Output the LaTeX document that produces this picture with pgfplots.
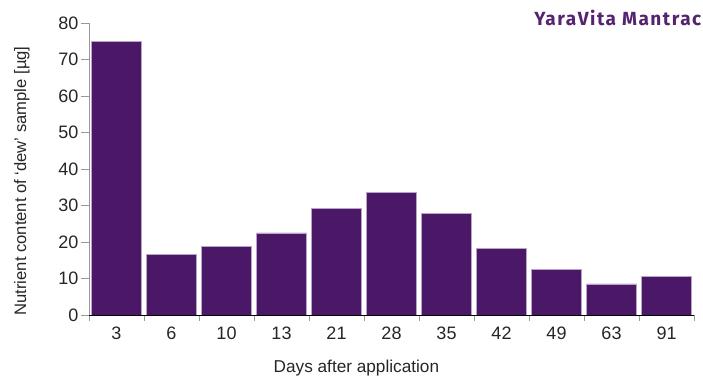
\documentclass[border=0pt]{standalone}
\usepackage{pgfplots}
\pgfplotsset{compat=1.18}
\usepackage{fontspec}
\setmainfont{Liberation Sans}
\newfontfamily\brandfont{Fira Sans}[LetterSpace=8]
\definecolor{barpurple}{HTML}{4B1767}
\definecolor{baredge}{HTML}{B9A3C9}
\definecolor{brand}{HTML}{55246F}

\begin{document}
\begin{tikzpicture}
\path[use as bounding box] (0,0) rectangle (703pt,377pt);
\begin{axis}[
  at={(89pt,62pt)}, anchor=south west,
  scale only axis, width=605pt, height=292pt,
  ybar, bar width=50pt,
  xmin=-0.5, xmax=10.5, ymin=0, ymax=80,
  axis x line*=bottom, axis y line*=left,
  x axis line style={-, black, line width=0.8pt},
  y axis line style={-, gray!80, line width=0.8pt},
  xtick={0,...,10},
  xticklabels={3,6,10,13,21,28,35,42,49,63,91},
  minor xtick={-0.5,0.5,...,10.5},
  ytick={0,10,...,80},
  tick align=outside,
  major tick length=8pt, minor tick length=6pt,
  every major x tick/.append style={draw=none},
  every minor x tick/.append style={draw=gray!80, line width=0.8pt},
  every major y tick/.append style={draw=gray!80, line width=0.8pt},
  /pgf/number format/assume math mode=true,
  tick label style={font=\fontsize{18}{21}\selectfont, text=black!85},
  yticklabel style={xshift=1pt},
  xlabel={Days after application},
  ylabel={Nutrient content of ‘dew’ sample [µg]},
  xlabel style={font=\fontsize{17.2}{20}\selectfont, text=black!85,
    at={(axis description cs:0.442,-0.183)}, anchor=center},
  ylabel style={font=\fontsize{16.6}{19}\selectfont, text=black!85,
    at={(axis description cs:-0.111,0.459)}, anchor=center},
]
\addplot[fill=barpurple, draw=baredge, line width=0.6pt]
  coordinates {(0,75) (1,16.5) (2,18.8) (3,22.5) (4,29.1) (5,33.6)
               (6,27.8) (7,18.2) (8,12.4) (9,8.5) (10,10.6)};
\end{axis}
\node[anchor=base east, inner sep=0, text=brand,
      font=\brandfont\bfseries\fontsize{19}{22}\selectfont]
  at (701.5pt,351pt) {YaraVita Mantrac};
\end{tikzpicture}
\end{document}
